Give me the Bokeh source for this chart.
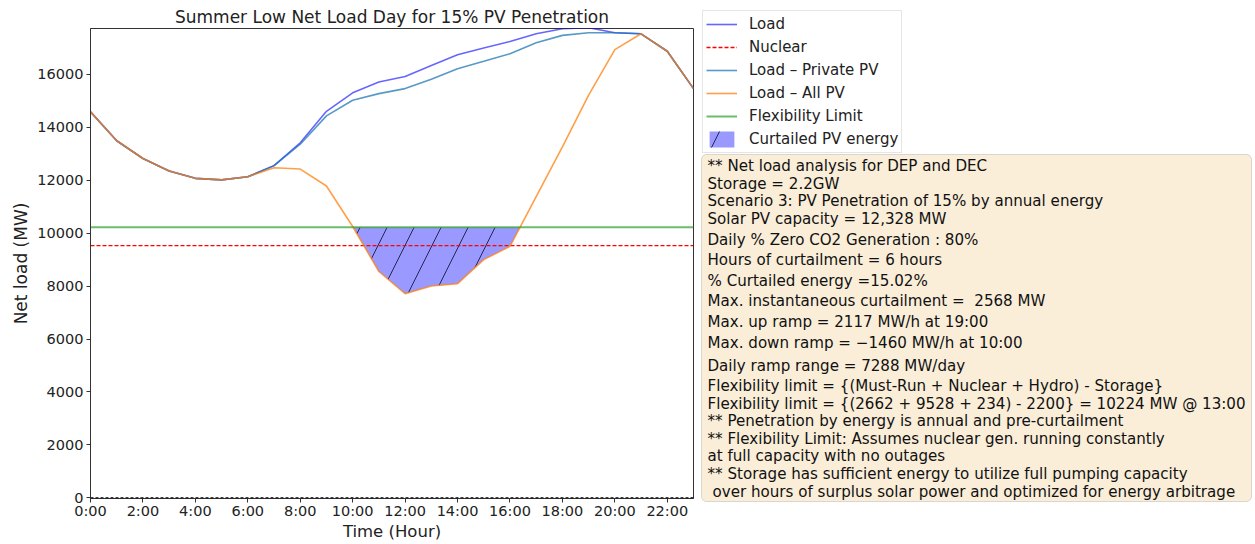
import numpy as np
from bokeh.plotting import figure
from bokeh.layouts import row
from bokeh.models import Legend, LegendItem, Span, FixedTicker, Range1d, BoxAnnotation, ColumnDataSource
from bokeh.core.properties import value
from bokeh.embed import file_html
from bokeh.resources import INLINE

# ---------------- data ----------------
hours = list(range(24))
load = [14580, 13490, 12820, 12350, 12070, 12010, 12130, 12550, 13410, 14600,
        15300, 15710, 15920, 16330, 16740, 16990, 17240, 17530, 17720, 17760,
        17570, 17530, 16870, 15460]
load_private_pv = [14580, 13490, 12820, 12350, 12070, 12010, 12130, 12550, 13360, 14430,
                   15020, 15270, 15460, 15810, 16210, 16490, 16780, 17190, 17470, 17570,
                   17570, 17530, 16870, 15460]
load_all_pv = [14580, 13490, 12820, 12350, 12070, 12010, 12130, 12470, 12420, 11780,
               10250, 8550, 7710, 8000, 8090, 9000, 9500, 11380, 13260, 15210,
               16930, 17530, 16870, 15460]
nuclear = 9528
flex_limit = 10224

x_tick_hours = [0, 2, 4, 6, 8, 10, 12, 14, 16, 18, 20, 22]
x_tick_labels = ["0:00", "2:00", "4:00", "6:00", "8:00", "10:00", "12:00",
                 "14:00", "16:00", "18:00", "20:00", "22:00"]
y_ticks = [0, 2000, 4000, 6000, 8000, 10000, 12000, 14000, 16000]

title_text = "Summer Low Net Load Day for 15% PV Penetration"
x_label = "Time (Hour)"
y_label = "Net load (MW)"
legend_labels = ["Load", "Nuclear", "Load \u2013 Private PV", "Load \u2013 All PV",
                 "Flexibility Limit", "Curtailed PV energy"]
info_lines = [
    "** Net load analysis for DEP and DEC",
    "Storage = 2.2GW",
    "Scenario 3: PV Penetration of 15% by annual energy",
    "Solar PV capacity = 12,328 MW",
    "Daily % Zero CO2 Generation : 80%",
    "Hours of curtailment = 6 hours",
    "% Curtailed energy =15.02%",
    "Max. instantaneous curtailment = \u00a02568 MW",
    "Max. up ramp = 2117 MW/h at 19:00",
    "Max. down ramp = \u22121460 MW/h at 10:00",
    "Daily ramp range = 7288 MW/day",
    "Flexibility limit = {(Must-Run + Nuclear + Hydro) - Storage}",
    "Flexibility limit = {(2662 + 9528 + 234) - 2200} = 10224 MW @ 13:00",
    "** Penetration by energy is annual and pre-curtailment",
    "** Flexibility Limit: Assumes nuclear gen. running constantly",
    "at full capacity with no outages",
    "** Storage has sufficient energy to utilize full pumping capacity",
    "over hours of surplus solar power and optimized for energy arbitrage",
]

# ------------- curtailed region (where net load < flexibility limit) -------------
ya = np.array(load_all_pv, dtype=float)
cx, cy = [], []
for i in range(len(hours) - 1):
    x0, x1, y0, y1 = hours[i], hours[i + 1], ya[i], ya[i + 1]
    if y0 <= flex_limit:
        cx.append(x0); cy.append(y0)
    if (y0 - flex_limit) * (y1 - flex_limit) < 0:
        xc = x0 + (flex_limit - y0) / (y1 - y0) * (x1 - x0)
        cx.append(xc); cy.append(flex_limit)
if ya[-1] <= flex_limit:
    cx.append(hours[-1]); cy.append(ya[-1])

FONT = "DejaVu Sans"
TXT = "#222222"
TOTAL_W, TOTAL_H = 1253, 544
MAIN_W = 695

# ---------------- main figure ----------------
p = figure(width=MAIN_W, height=TOTAL_H, output_backend="svg", toolbar_location=None,
           title=title_text, x_range=Range1d(0, 23), y_range=Range1d(-25, 17730),
           min_border_left=90, min_border_right=MAIN_W - 693, min_border_top=28,
           min_border_bottom=TOTAL_H - 498)
p.title.text_font = FONT
p.title.text_font_size = "17px"
p.title.text_font_style = "normal"
p.title.text_color = TXT
p.title.align = "center"
p.title.standoff = 3
p.background_fill_color = "white"
p.border_fill_color = "white"
p.outline_line_color = "#333333"
p.outline_line_width = 1
p.grid.visible = False

for ax in (p.xaxis[0], p.yaxis[0]):
    ax.axis_line_color = "#333333"
    ax.major_tick_line_color = "#333333"
    ax.major_tick_in = 0
    ax.major_tick_out = 4
    ax.minor_tick_line_color = None
    ax.major_label_text_font = FONT
    ax.major_label_text_font_size = "14.5px"
    ax.major_label_text_color = TXT
    ax.major_label_text_line_height = 1.0
    ax.axis_label_text_font = FONT
    ax.axis_label_text_font_size = "17px"
    ax.axis_label_text_font_style = "normal"
    ax.axis_label_text_color = TXT
    ax.axis_label_text_line_height = 1.0

p.xaxis.axis_label = x_label
p.xaxis.axis_label_text_font_size = "16.5px"
p.xaxis.major_label_standoff = 0
p.xaxis.axis_label_standoff = 0
p.yaxis.axis_label = y_label
p.yaxis.major_label_standoff = 3
p.yaxis.axis_label_standoff = 3

p.xaxis.ticker = FixedTicker(ticks=x_tick_hours)
p.xaxis.major_label_overrides = {h: l for h, l in zip(x_tick_hours, x_tick_labels)}
p.yaxis.ticker = FixedTicker(ticks=y_ticks)
p.yaxis.formatter.use_scientific = False

FILL = dict(fill_color="blue", fill_alpha=0.4, hatch_pattern="/", hatch_color="#111133",
            hatch_weight=1, hatch_scale=54, hatch_alpha=0.85)
LOAD = dict(line_color="blue", line_alpha=0.6, line_width=1.6)
NUC = dict(line_color="red", line_dash="4 2", line_width=1.3)
PRIV = dict(line_color="#1f77b4", line_alpha=0.75, line_width=1.6)
ALL = dict(line_color="#ff7f0e", line_alpha=0.75, line_width=1.6)
FLEX = dict(line_color="#2ca02c", line_alpha=0.7, line_width=2)

p.varea(x=cx, y1=cy, y2=[flex_limit] * len(cx), **FILL)
p.line(hours, load, **LOAD)
p.line([hours[0], hours[-1]], [nuclear, nuclear], **NUC)
p.line(hours, load_private_pv, **PRIV)
p.line(hours, load_all_pv, **ALL)
p.line([hours[0], hours[-1]], [flex_limit, flex_limit], **FLEX)
p.add_layout(Span(location=0, dimension="width", line_color="black",
                  line_dash="3 2", line_width=1.2))

# ---------------- side panel (legend + notes), data units = picture pixels ----------------
SIDE_W = TOTAL_W - MAIN_W
q = figure(width=SIDE_W, height=TOTAL_H, output_backend="svg", toolbar_location=None,
           x_range=Range1d(MAIN_W, TOTAL_W), y_range=Range1d(TOTAL_H, 0),
           x_axis_location=None, y_axis_location=None,
           min_border_left=0, min_border_right=0, min_border_top=0, min_border_bottom=0)
for fig in (p, q):
    try:
        fig.frame_align = False
    except Exception:
        pass
q.outline_line_color = None
q.grid.visible = False
q.background_fill_color = "white"
q.border_fill_color = "white"

# legend proxies (placed outside the visible range)
OFF_X, OFF_Y = [0, 1], [-50, -50]
d_load = q.line(OFF_X, OFF_Y, **LOAD)
d_nuc = q.line(OFF_X, OFF_Y, **NUC)
d_priv = q.line(OFF_X, OFF_Y, **PRIV)
d_all = q.line(OFF_X, OFF_Y, **ALL)
d_flex = q.line(OFF_X, OFF_Y, **FLEX)
d_fill = q.varea(x=OFF_X, y1=[-60, -60], y2=[-50, -50], **FILL)

legend = Legend(items=[
    LegendItem(label=legend_labels[0], renderers=[d_load]),
    LegendItem(label=legend_labels[1], renderers=[d_nuc]),
    LegendItem(label=legend_labels[2], renderers=[d_priv]),
    LegendItem(label=legend_labels[3], renderers=[d_all]),
    LegendItem(label=legend_labels[4], renderers=[d_flex]),
    LegendItem(label=legend_labels[5], renderers=[d_fill]),
], location=(702 - MAIN_W, TOTAL_H - 153))
legend.label_text_font = FONT
legend.label_text_font_size = "15px"
legend.label_text_color = TXT
legend.glyph_width = 31
legend.glyph_height = 20
legend.label_standoff = 12
legend.label_height = 20
legend.spacing = 3
legend.padding = 3
legend.margin = 0
legend.border_line_color = "#cccccc"
legend.border_line_width = 1
legend.background_fill_color = "white"
legend.background_fill_alpha = 1.0
q.add_layout(legend)

q.add_layout(BoxAnnotation(left=701, right=1251, top=154, bottom=501,
                           fill_color="#faeed9", fill_alpha=1.0, level="underlay",
                           line_color="#8a8a8a", line_width=1, border_radius=5))
line_centers = [165.5, 183.3, 200.7, 218.3, 239.3, 259.3, 280, 300.7, 321.7, 342.7,
                365, 385, 403.3, 420.7, 438.3, 455.7, 473.3, 491.7]
line_x = [707] * (len(info_lines) - 1) + [712]
src = ColumnDataSource(dict(x=line_x, y=line_centers, text=info_lines))
q.text(x="x", y="y", text="text", source=src, text_font=value(FONT), text_font_size="15.1px",
       text_align="left", text_baseline="middle", text_color="#111111")

layout = row(p, q)
open("out.html", "w").write(file_html(layout, INLINE))
